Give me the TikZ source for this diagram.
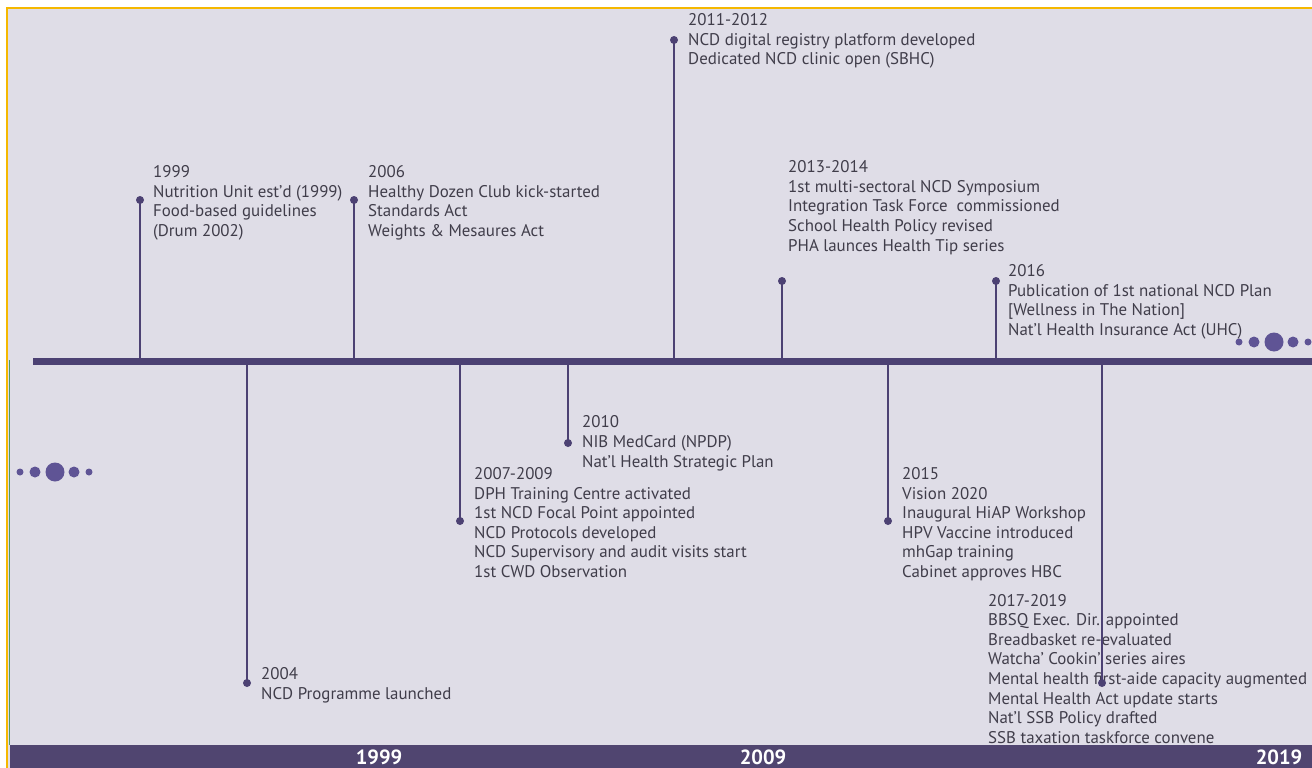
\documentclass[tikz,border=0pt]{standalone}
\usepackage{fontspec}
\setmainfont{PT Sans}
\definecolor{bgc}{HTML}{DFDDE7}
\definecolor{linec}{HTML}{4C4173}
\definecolor{dotc}{HTML}{5F5495}
\definecolor{txtc}{HTML}{403D4A}
\definecolor{barc}{HTML}{504570}
\definecolor{orc}{HTML}{F5B800}
\definecolor{grc}{HTML}{4E9A6A}
\tikzset{
  txt/.style={font=\fontsize{16.9}{19.6}\selectfont, text=txtc, align=left, inner sep=0pt, anchor=base west},
  pin/.style={circle, fill=linec, inner sep=0pt, minimum size=8pt},
  stem/.style={draw=linec, line width=1.6pt},
  deco/.style={circle, fill=dotc, inner sep=0pt},
  yearlab/.style={font=\fontsize{20.5}{20.5}\selectfont\bfseries, text=white, inner sep=0pt, anchor=base}
}
\begin{document}
\begin{tikzpicture}[x=1pt,y=-1pt]
\useasboundingbox (0,0) rectangle (1312,768);
\fill[white] (0,0) rectangle (1312,768);
\fill[bgc] (8,9) rectangle (1312,768);
\draw[orc, line width=2pt] (7,768) -- (7,8) -- (1312,8);
\draw[grc, line width=1pt] (9.5,360) -- (9.5,745);
% bottom bar
\fill[barc] (10,745) rectangle (1312,768);
\node[yearlab] (y1999) at (379,764) {1999};
\node[yearlab] (y2009) at (763,764) {2009};
\node[yearlab] (y2019) at (1279,764) {2019};
% main line
\coordinate (ls) at (33,361);
\coordinate (le) at (1312,361);
\draw[linec, line width=7pt] (ls) -- (le);
% decorative dots
\node[deco, minimum size=7pt] (l1) at (20,472) {};
\node[deco, minimum size=11pt] (l2) at (35,472) {};
\node[deco, minimum size=19pt] (l3) at (55,472) {};
\node[deco, minimum size=11pt] (l4) at (74,472) {};
\node[deco, minimum size=7pt] (l5) at (89,472) {};
\node[deco, minimum size=7pt] (r1) at (1239,342) {};
\node[deco, minimum size=11pt] (r2) at (1254,342) {};
\node[deco, minimum size=19pt] (r3) at (1274,342) {};
\node[deco, minimum size=11pt] (r4) at (1293,342) {};
\node[deco, minimum size=7pt] (r5) at (1308,342) {};
% texts (anchor = baseline of last line)
\node[txt] (t1) at (153,236.5) {1999\\Nutrition Unit est'd (1999)\\Food-based guidelines\\(Drum 2002)};
\node[txt] (t2) at (368,236.5) {2006\\Healthy Dozen Club kick-started\\Standards Act\\Weights \& Mesaures Act};
\node[txt] (t3) at (688,65) {2011-2012\\NCD digital registry platform developed\\Dedicated NCD clinic open (SBHC)};
\node[txt] (t4) at (788,251) {2013-2014\\1st multi-sectoral NCD Symposium\\Integration Task Force\ \ commissioned\\School Health Policy revised\\PHA launces Health Tip series};
\node[txt] (t5) at (1008,335.5) {2016\\Publication of 1st national NCD Plan\\{[}Wellness in The Nation{]}\\Nat'l Health Insurance Act (UHC)};
\node[txt] (t6) at (261,699) {2004\\NCD Programme launched};
\node[txt] (t7) at (474,577.5) {2007-2009\\DPH Training Centre activated\\1st NCD Focal Point appointed\\NCD Protocols developed\\NCD Supervisory and audit visits start\\1st CWD Observation};
\node[txt] (t8) at (582,467) {2010\\NIB MedCard (NPDP)\\Nat'l Health Strategic Plan};
\node[txt] (t9) at (902,577.5) {2015\\Vision 2020\\Inaugural HiAP Workshop\\HPV Vaccine introduced\\mhGap training\\Cabinet approves HBC};
\node[txt] (t10) at (988,743.2) {2017-2019\\BBSQ Exec. Dir. appointed\\Breadbasket re-evaluated\\Watcha' Cookin' series aires\\Mental health first-aide capacity augmented\\Mental Health Act update starts\\Nat'l SSB Policy drafted\\SSB taxation taskforce convene};
% pins and stems
\foreach \i/\x/\y in {1/140/200, 2/354/200, 3/674/40, 4/782/281, 5/996/281, 6/247/683, 7/460/521, 8/568/443, 9/888/521, 10/1102/683}{
  \node[pin] (d\i) at (\x,\y) {};
  \coordinate (b\i) at (\x,361);
  \draw[stem] (d\i.center) -- (b\i);
}
\end{tikzpicture}
\end{document}
